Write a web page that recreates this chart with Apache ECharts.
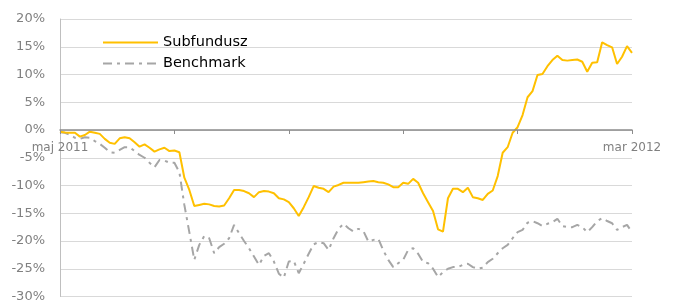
<!DOCTYPE html>
<html>
<head>
<meta charset="utf-8">
<script src="https://cdn.jsdelivr.net/npm/echarts@6/dist/echarts.min.js"></script>
<style>
  html, body { margin: 0; padding: 0; background: #fff; }
  #chart { width: 676px; height: 302px; }
</style>
</head>
<body>
<div id="chart"></div>
<script>
// values in %, one point roughly every 5 px across the plot
var subfundusz = [
  -0.3, -0.45, -0.5, -0.5, -1.2, -0.9, -0.3, -0.5, -0.7, -1.6,
  -2.3, -2.5, -1.5, -1.3, -1.5, -2.2, -3.0, -2.6, -3.2, -3.9,
  -3.5, -3.2, -3.8, -3.7, -4.0, -8.6, -10.8, -13.7, -13.5, -13.3,
  -13.4, -13.7, -13.8, -13.6, -12.3, -10.8, -10.8, -11.0, -11.4, -12.1,
  -11.2, -11.0, -11.1, -11.4, -12.3, -12.5, -13.0, -14.1, -15.5, -13.9,
  -12.1, -10.1, -10.4, -10.6, -11.2, -10.2, -9.9, -9.5, -9.5, -9.5,
  -9.5, -9.4, -9.3, -9.2, -9.4, -9.5, -9.8, -10.3, -10.3, -9.5,
  -9.7, -8.8, -9.5, -11.4, -13.0, -14.6, -17.9, -18.3, -12.3, -10.6,
  -10.6, -11.2, -10.4, -12.1, -12.3, -12.6, -11.5, -10.9, -8.3, -4.1,
  -3.1, -0.5, 0.5, 2.7, 5.9, 7.0, 9.9, 10.1, 11.5, 12.6,
  13.4, 12.6, 12.5, 12.6, 12.7, 12.3, 10.5, 12.1, 12.2, 15.8,
  15.3, 14.9, 11.9, 13.2, 15.1, 13.9
];
var benchmark = [
  -0.4, -0.5, -0.9, -1.4, -1.6, -1.3, -1.4, -2.0, -2.5, -3.2,
  -4.0, -4.1, -3.6, -3.1, -3.1, -3.8, -4.5, -5.0, -5.9, -6.7,
  -5.4, -5.5, -5.9, -5.9, -7.6, -13.5, -18.4, -23.4, -20.7, -19.1,
  -19.5, -22.2, -21.1, -20.5, -19.5, -17.1, -18.6, -20.0, -21.3, -22.8,
  -24.3, -22.7, -22.2, -23.7, -25.9, -26.6, -23.7, -23.6, -25.8, -24.1,
  -22.3, -20.6, -20.2, -20.4, -21.6, -19.5, -17.8, -16.9, -17.7, -18.3,
  -17.8, -18.2, -20.1, -19.8, -19.6, -21.7, -23.4, -24.7, -24.0, -23.4,
  -21.6, -21.3, -22.3, -23.8, -24.0, -25.0, -26.5, -25.6, -25.0, -24.7,
  -24.7, -24.3, -24.1, -24.7, -25.0, -24.8, -23.8, -23.2, -22.2, -21.3,
  -20.7, -19.5, -18.4, -18.0, -16.7, -16.4, -16.8, -17.3, -16.9, -16.6,
  -16.0, -17.3, -17.5, -17.5, -17.1, -17.5, -18.4, -17.5, -16.4, -15.9,
  -16.4, -16.8, -18.0, -17.5, -17.1, -18.4
];
var tickLabels = ['maj 2011', 'mar 2012'];
var seriesNames = ['Subfundusz', 'Benchmark'];

var days = subfundusz.map(function (v, i) { return i; });
var last = days.length - 1;

var yMin = -30, yMax = 20;
var gridTop = 19, gridBottom = 5.5, chartH = 302;
// the label axis is shifted up onto the 0% line
var plotH = chartH - gridTop - gridBottom;
var zeroOffset = -plotH * (0 - yMin) / (yMax - yMin);

var chart = echarts.init(document.getElementById('chart'));
chart.setOption({
  animation: false,
  textStyle: { fontFamily: 'DejaVu Sans' },
  grid: { left: 60, right: 44, top: gridTop, bottom: gridBottom, outerBoundsMode: 'none' },
  legend: {
    orient: 'vertical',
    left: 97,
    top: 30,
    itemWidth: 55,
    itemHeight: 16,
    itemGap: 6,
    itemStyle: { opacity: 0 },
    textStyle: { color: '#000', fontSize: 14.5, fontFamily: 'DejaVu Sans' },
    data: seriesNames
  },
  xAxis: [
    {
      // line + ticks on the 0% line
      type: 'category',
      data: days,
      boundaryGap: false,
      z: 4,
      axisLine: { show: true, onZero: true, lineStyle: { color: '#8c8c8c', width: 1.5 } },
      axisTick: { show: true, interval: 22, length: 4, lineStyle: { color: '#8c8c8c', width: 1 } },
      axisLabel: { show: false },
      splitLine: { show: false }
    },
    {
      // labels only, moved up to the 0% line
      type: 'category',
      data: days,
      boundaryGap: false,
      position: 'bottom',
      offset: zeroOffset,
      axisLine: { show: false, onZero: false },
      axisTick: { show: false },
      axisLabel: {
        interval: function (i) { return i === 0 || i === last; },
        formatter: function (v, i) { return i === 0 ? tickLabels[0] : tickLabels[1]; },
        color: '#808080',
        fontSize: 12,
        margin: 12,
        showMinLabel: true,
        showMaxLabel: true
      },
      splitLine: { show: false }
    }
  ],
  yAxis: {
    type: 'value',
    min: yMin,
    max: yMax,
    interval: 5,
    axisLine: { show: true, onZero: false, lineStyle: { color: '#bfbfbf' } },
    axisTick: { show: false },
    axisLabel: { formatter: '{value}%', color: '#808080', fontSize: 13, margin: 15 },
    splitLine: { lineStyle: { color: '#d9d9d9', width: 1 } }
  },
  series: [
    {
      name: seriesNames[0],
      type: 'line',
      data: subfundusz,
      symbol: 'none',
      lineStyle: { color: '#ffc000', width: 2 },
      itemStyle: { color: '#ffc000' },
      z: 3
    },
    {
      name: seriesNames[1],
      type: 'line',
      data: benchmark,
      symbol: 'none',
      lineStyle: { color: '#a6a6a6', width: 2, type: [9, 5, 3, 5] },
      itemStyle: { color: '#a6a6a6' },
      z: 2
    }
  ]
});
</script>
</body>
</html>
